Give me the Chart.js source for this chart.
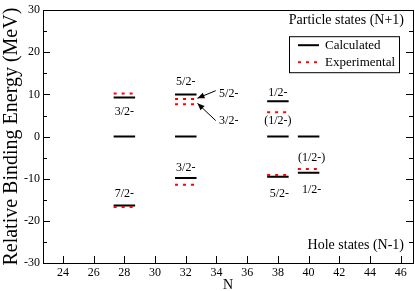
<!DOCTYPE html>
<html>
<head>
<meta charset="utf-8">
<script src="https://cdn.jsdelivr.net/npm/chart.js@4"></script>
<style>
html, body { margin: 0; padding: 0; background: #fff; }
</style>
</head>
<body>
<canvas id="chart" width="415" height="291"></canvas>
<script>
// niveles calculados (N, energia)
const calcN = [28, 28, 28, 32, 32, 32, 38, 38, 38, 40, 40]
const calcE = [9.3, 0, -16.35, 10.0, 0, -9.8, 8.4, 0, -9.5, 0, -8.6]

// niveles experimentales
const expN = [28, 28, 32, 32, 32, 38, 38, 40]
const expE = [10.2, -16.7, 8.9, 7.7, -11.4, 5.8, -9.1, -7.7]

// etiquetas de espin
const labelN = [28, 32, 34.8, 34.8, 38, 38, 28, 32, 38.1, 40.2, 40.2]
const labelE = [5.8, 13.0, 10.2, 3.7, 10.5, 3.7, -13.7, -7.4, -13.5, -5.1, -12.6]
const labelText = ["3/2-", "5/2-", "5/2-", "3/2-", "1/2-", "(1/2-)", "7/2-", "3/2-", "5/2-", "(1/2-)", "1/2-"]

// flechas (desde -> hasta)
const arrowFrom = [[33.95, 10.9], [33.95, 3.8]]
const arrowTo = [[32.76, 9.1], [32.76, 7.9]]

const xTicks = [24, 26, 28, 30, 32, 34, 36, 38, 40, 42, 44, 46]
const yTicks = [-30, -20, -10, 0, 10, 20, 30]

const FONT = "'Liberation Serif', 'Times New Roman', serif"
const HALF = 0.7

// cada nivel es un segmento horizontal, separados por null
function levels(ns, es) {
    const pts = []
    ns.forEach((n, i) => {
        pts.push({ x: n - HALF, y: es[i] })
        pts.push({ x: n + HALF, y: es[i] })
        pts.push({ x: n, y: null })
    })
    return pts
}

const extras = {
    id: "extras",
    afterDatasetsDraw(chart) {
        const ctx = chart.ctx
        const xs = chart.scales.x
        const ys = chart.scales.y
        const a = chart.chartArea
        ctx.save()

        // ticks hacia adentro
        ctx.strokeStyle = "#000"
        ctx.lineWidth = 1
        ctx.beginPath()
        for (let v = -30; v <= 30; v += 5) {
            const py = Math.round(ys.getPixelForValue(v)) + 0.5
            const len = v % 10 === 0 ? 7 : 4
            ctx.moveTo(a.left, py); ctx.lineTo(a.left + len, py)
            ctx.moveTo(a.right, py); ctx.lineTo(a.right - len, py)
        }
        xTicks.forEach(v => {
            const px = Math.round(xs.getPixelForValue(v)) + 0.5
            ctx.moveTo(px, a.bottom); ctx.lineTo(px, a.bottom - 7)
        })
        ctx.stroke()

        // etiquetas
        ctx.fillStyle = "#000"
        ctx.font = "12px " + FONT
        ctx.textAlign = "center"
        ctx.textBaseline = "middle"
        labelText.forEach((t, i) => {
            ctx.fillText(t, xs.getPixelForValue(labelN[i]), ys.getPixelForValue(labelE[i]))
        })

        // flechas
        arrowFrom.forEach((f, i) => {
            const x0 = xs.getPixelForValue(f[0]), y0 = ys.getPixelForValue(f[1])
            const x1 = xs.getPixelForValue(arrowTo[i][0]), y1 = ys.getPixelForValue(arrowTo[i][1])
            const ang = Math.atan2(y1 - y0, x1 - x0)
            ctx.beginPath()
            ctx.moveTo(x0, y0); ctx.lineTo(x1, y1)
            ctx.stroke()
            ctx.beginPath()
            ctx.moveTo(x1, y1)
            ctx.lineTo(x1 - 7 * Math.cos(ang) + 3 * Math.sin(ang), y1 - 7 * Math.sin(ang) - 3 * Math.cos(ang))
            ctx.lineTo(x1 - 7 * Math.cos(ang) - 3 * Math.sin(ang), y1 - 7 * Math.sin(ang) + 3 * Math.cos(ang))
            ctx.closePath()
            ctx.fill()
        })

        // textos de las regiones
        ctx.font = "14px " + FONT
        ctx.textAlign = "right"
        ctx.fillText("Particle states (N+1)", a.right - 9, a.top + 10)
        ctx.fillText("Hole states (N-1)", a.right - 9, a.bottom - 18)

        // leyenda
        const bx = a.right - 124, by = a.top + 26, bw = 110, bh = 36
        ctx.lineWidth = 1
        ctx.strokeRect(bx + 0.5, by + 0.5, bw, bh)
        ctx.font = "13px " + FONT
        ctx.textAlign = "left"
        chart.data.datasets.forEach((ds, i) => {
            const ly = by + 9 + i * 17
            ctx.beginPath()
            ctx.strokeStyle = ds.borderColor
            ctx.lineWidth = ds.borderWidth
            ctx.setLineDash(ds.borderDash || [])
            ctx.moveTo(bx + 9, ly); ctx.lineTo(bx + 30, ly)
            ctx.stroke()
            ctx.setLineDash([])
            ctx.fillText(ds.label, bx + 36, ly)
        })
        ctx.restore()
    }
}

new Chart(document.getElementById("chart"), {
    type: "scatter",
    data: {
        datasets: [{
            label: "Calculated",
            data: levels(calcN, calcE),
            showLine: true,
            spanGaps: false,
            borderColor: "#000",
            borderWidth: 2,
            pointRadius: 0,
            order: 1
        }, {
            label: "Experimental",
            data: levels(expN, expE),
            showLine: true,
            spanGaps: false,
            borderColor: "#ff0000",
            borderWidth: 2,
            borderDash: [3, 5],
            pointRadius: 0,
            order: 0
        }]
    },
    options: {
        responsive: false,
        animation: false,
        devicePixelRatio: 1,
        layout: { padding: 0 },
        plugins: {
            legend: { display: false },
            tooltip: { enabled: false }
        },
        scales: {
            x: {
                type: "linear",
                position: "bottom",
                min: 22.7,
                max: 46.8,
                afterBuildTicks: s => { s.ticks = xTicks.map(v => ({ value: v })) },
                afterFit: s => { s.height = 28 },
                grid: { display: false, drawTicks: false, tickLength: 0 },
                border: { display: true, color: "#000", width: 1 },
                ticks: { color: "#000", font: { family: FONT, size: 12 }, padding: 3, maxRotation: 0 },
                title: { display: true, text: "N", color: "#000", font: { family: FONT, size: 14, lineHeight: 1 }, padding: { top: 0, bottom: -1 } }
            },
            x2: {
                type: "linear",
                position: "top",
                min: 22.7,
                max: 46.8,
                afterFit: s => { s.height = 5 },
                grid: { display: false, drawTicks: false, tickLength: 0 },
                border: { display: true, color: "#000", width: 1 },
                ticks: { display: false }
            },
            y: {
                type: "linear",
                position: "left",
                min: -30,
                max: 30,
                afterBuildTicks: s => { s.ticks = yTicks.map(v => ({ value: v })) },
                afterFit: s => { s.width = 43 },
                grid: { display: false, drawTicks: false, tickLength: 0 },
                border: { display: true, color: "#000", width: 1 },
                ticks: { color: "#000", font: { family: FONT, size: 12 }, padding: 3 },
                title: { display: true, text: "Relative Binding Energy (MeV)", color: "#000", font: { family: FONT, size: 20, lineHeight: 1.2 }, padding: 0 }
            },
            y2: {
                type: "linear",
                position: "right",
                min: -30,
                max: 30,
                afterFit: s => { s.width = 2 },
                grid: { display: false, drawTicks: false, tickLength: 0 },
                border: { display: true, color: "#000", width: 1 },
                ticks: { display: false }
            }
        }
    },
    plugins: [extras]
})
</script>
</body>
</html>
